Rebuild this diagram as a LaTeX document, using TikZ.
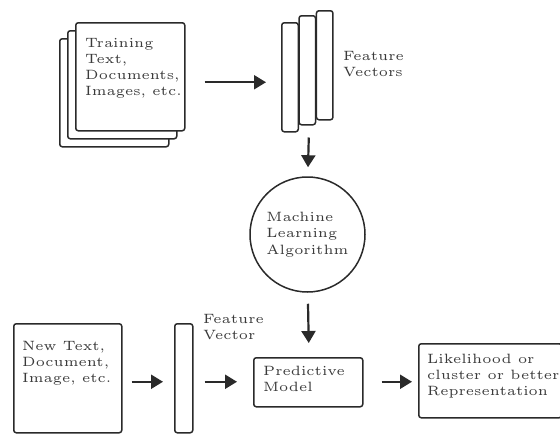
\documentclass[tikz,border=0pt]{standalone}
\usetikzlibrary{arrows.meta}
% small-design-size Computer Modern, enlarged
\font\labfont=cmr5 at 13.5pt
\newcommand\labstyle{\labfont\baselineskip=16.2pt\relax}
\definecolor{ink}{HTML}{2A2A2A}
\definecolor{txt}{HTML}{3A3A3A}
\begin{document}
\begin{tikzpicture}[x=1pt,y=-1pt,
  box/.style={draw=ink, line width=1.5pt, rounded corners=2.5pt, fill=white,
    inner sep=0pt, anchor=north west},
  lbl/.style={text=txt, font=\labstyle, align=left, inner sep=0pt, anchor=north west},
  flow/.style={draw=ink, line width=2.2pt, -{Triangle[length=12pt,width=14pt]}}]
\useasboundingbox (0,0) rectangle (560,434);

% stack of training documents
\node[box, minimum width=109pt, minimum height=108pt] (doc3) at (59,38) {};
\node[box, minimum width=109pt, minimum height=108pt] (doc2) at (67,30) {};
\node[box, minimum width=109pt, minimum height=108pt] (train) at (75,22) {};
\node[lbl] (traintxt) at (85,38) {Training\\Text,\\Documents,\\Images, etc.};

% feature vectors
\node[box, minimum width=16.5pt, minimum height=109pt] (fv1) at (281,22) {};
\node[box, minimum width=16.5pt, minimum height=109pt] (fv2) at (298.3,15) {};
\node[box, minimum width=16.5pt, minimum height=109pt] (fv3) at (315.7,10) {};
\node[lbl] (fvtxt) at (343,51) {Feature\\Vectors};

% learning algorithm
\node[draw=ink, line width=1.5pt, circle, minimum size=115pt, inner sep=0pt,
  text=txt, font=\labstyle, align=left] (mla) at (307.5,234.5)
  {Machine\\Learning\\Algorithm};

% prediction row
\node[box, minimum width=108pt, minimum height=109pt] (newdoc) at (13,323) {};
\node[lbl] (newtxt) at (22,341) {New Text,\\Document,\\Image, etc.};
\node[box, minimum width=18pt, minimum height=109pt] (fvbar) at (174,323) {};
\node[lbl] (fvbartxt) at (203,314) {Feature\\Vector};
\node[box, minimum width=109pt, minimum height=49pt] (pred) at (253,357) {};
\node[lbl] (predtxt) at (263,366) {Predictive\\Model};
\node[box, minimum width=143pt, minimum height=74pt] (like) at (418,343) {};
\node[lbl] (liketxt) at (427,354) {Likelihood or\\cluster or better\\Representation};

% connectors
\draw[flow] ([shift={(19,5.5)}]train.east) -- ([shift={(-15,5)}]fv1.west);
\draw[flow] ([shift={(1.5,12)}]fv2.south) -- ([shift={(0.5,-9)}]mla.north);
\draw[flow] ([shift={(0.5,11)}]mla.south) -- ([shift={(0.5,-14)}]pred.north);
\draw[flow] ([shift={(9,3.5)}]newdoc.east) -- ([shift={(-11,3.5)}]fvbar.west);
\draw[flow] ([shift={(11,3.5)}]fvbar.east) -- ([shift={(-16,-0.5)}]pred.west);
\draw[flow] ([shift={(18,-0.5)}]pred.east) -- ([shift={(-6,1)}]like.west);
\end{tikzpicture}
\end{document}
